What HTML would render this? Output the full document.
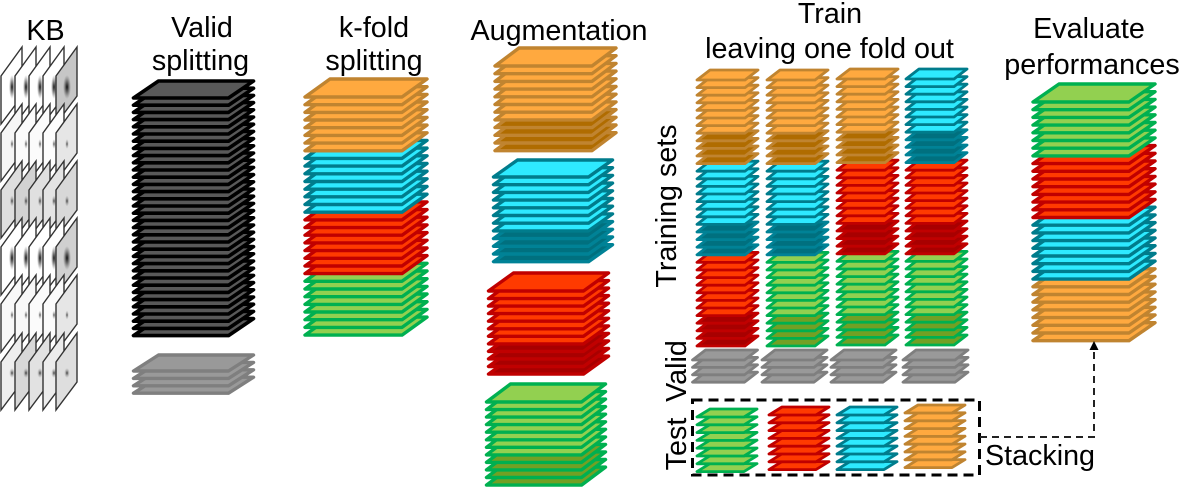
<!DOCTYPE html>
<html><head><meta charset="utf-8"><style>
html,body{margin:0;padding:0;background:#fff;width:1200px;height:491px;overflow:hidden}
svg{display:block}
text{font-family:"Liberation Sans",sans-serif;font-size:28.700px;fill:#000;text-anchor:middle}
</style></head><body>
<svg id="s" width="1200" height="491" viewBox="0 0 1200 491" xmlns="http://www.w3.org/2000/svg">
<defs>
<radialGradient id="b"><stop offset="0" stop-color="#000" stop-opacity=".95"/><stop offset=".45" stop-color="#222" stop-opacity=".55"/><stop offset="1" stop-color="#555" stop-opacity="0"/></radialGradient>
<radialGradient id="d"><stop offset="0" stop-color="#000" stop-opacity=".75"/><stop offset=".5" stop-color="#333" stop-opacity=".3"/><stop offset="1" stop-color="#555" stop-opacity="0"/></radialGradient>
</defs>
<g id="kb"></g>
<g id="st"></g>
<text x="45.500" y="40">KB</text>
<text x="202" y="37">Valid</text>
<text x="200.500" y="70">splitting</text>
<text x="374" y="37">k-fold</text>
<text x="374" y="70">splitting</text>
<text x="559" y="40">Augmentation</text>
<text x="830" y="23">Train</text>
<text x="829.500" y="58">leaving one fold out</text>
<text x="1089" y="38">Evaluate</text>
<text x="1092" y="74">performances</text>
<text x="1040" y="465">Stacking</text>
<text transform="translate(676 206) rotate(-90)">Training sets</text>
<text transform="translate(686 371) rotate(-90)">Valid</text>
<text transform="translate(686 444) rotate(-90)">Test</text>
<rect x="692.500" y="400" width="287" height="75" fill="none" stroke="#000" stroke-width="3" stroke-dasharray="10 6"/>
<path d="M980 437H1094V349" fill="none" stroke="#222" stroke-width="2" stroke-dasharray="7 5"/>
<path d="M1094 341L1089.500 350H1098.500Z" fill="#000"/>
</svg>
<script>
var C={o:['#ffa93f','#c08430'],od:['#b06c00','#c08430'],c:['#2eeaff','#007c8c'],cd:['#00707f','#008296'],
r:['#ff3a00','#c00000'],rd:['#a80000','#c00000'],g:['#92d050','#00b050'],gd:['#72a024','#00b050'],
k:['#595959','#000'],y:['#999','#7f7f7f']};
var out='';
function st(x,y,w,dx,dy,sp,seq,sw){
  var list=[];seq.forEach(function(p){var n=p[1];for(var i=0;i<n;i++)list.push(p[0])});
  for(var i=list.length-1;i>=0;i--){
    var c=C[list[i]],Y=y+i*sp;
    var pts=[x,Y,x+w,Y,x+w+dx,Y-dy,x+dx,Y-dy].map(function(v){return v.toFixed(1)}).join(' ');
    out+='<polygon points="'+pts+'" fill="'+c[0]+'" stroke="'+c[1]+'" stroke-width="'+sw+'" stroke-linejoin="round"/>';
  }
}
var L8=function(a){return [[a,8],[a+'d',4]]};
st(133.500,98,95,25,17,7.2,[['k',34]],3.6);
st(133.500,371,95,25,16,7.4,[['y',4]],3.4);
st(305,97,97,25,18,7.68,[['o',8],['c',8],['r',8],['g',8]],3.4);
st(495,66,97,24,18,7.7,L8('o'),3.4);
st(493.500,177,95,24,17,7.7,L8('c'),3.4);
st(488.500,291,95,25,18,7.55,L8('r'),3.4);
st(486.500,402,95,24,18,7.55,L8('g'),3.4);
function col(x,y,s1,s2,s3){st(x,y,48,13,10,7.6,L8(s1).concat(L8(s2),L8(s3)),2.8)}
col(697,80,'o','c','r');
col(767,80,'o','c','g');
col(837,79,'o','r','g');
col(906,79,'c','r','g');
[692.500,762,831,903].forEach(function(x){st(x,360,52,13,10,7.4,[['y',4]],2.8)});
st(697,417,47,13,8,7.8,[['g',8]],2.8);
st(769,415,47,13,8,7.8,[['r',8]],2.8);
st(837,415,47,13,8,7.8,[['c',8]],2.8);
st(905,413,47,13,8,7.8,[['o',8]],2.8);
st(1033,102,96,26,18,7.7,[['g',8],['r',8],['c',8],['o',8]],3.4);
var Ls=[1,15,29,43,56],ys=[47,104,161,218,275,333];
var bg=[['#fff','#fff','#fff','#fff','#c6c6c6'],['#f6f6f6','#fbfbfb','#fbfbfb','#fdfdfd','#e6e6e6'],['#dedede','#d2d2d2','#e0e0e0','#e4e4e4','#d8d8d8'],['#fff','#fff','#fff','#fff','#d0d0d0'],['#f8f8f8','#f8f8f8','#fbfbfb','#fbfbfb','#e6e6e6'],['#eee','#d8d8d8','#e2e2e2','#ececec','#dedede']];
var sz=[[3,12,'b'],[1.8,5,'d'],[2.200,5.500,'d'],[3,12,'b'],[1.800,4.500,'d'],[2.800,5,'d']];
var kb='';
ys.forEach(function(y,r){Ls.forEach(function(L,c){
  kb+='<polygon points="'+[L,y+29,L+21,y,L+21,y+49,L,y+77].join(' ')+'" fill="'+bg[r][c]+'" stroke="#333" stroke-width="1.4"/>';
  var s=sz[r];
  var big=c==4&&(r==0||r==3);
  kb+='<ellipse cx="'+(L+11)+'" cy="'+(y+40)+'" rx="'+(big?s[0]+1:s[0])+'" ry="'+s[1]+'" fill="url(#'+s[2]+')"/>';
})});
document.getElementById('kb').innerHTML=kb;
document.getElementById('st').innerHTML=out;
</script>
</body></html>
